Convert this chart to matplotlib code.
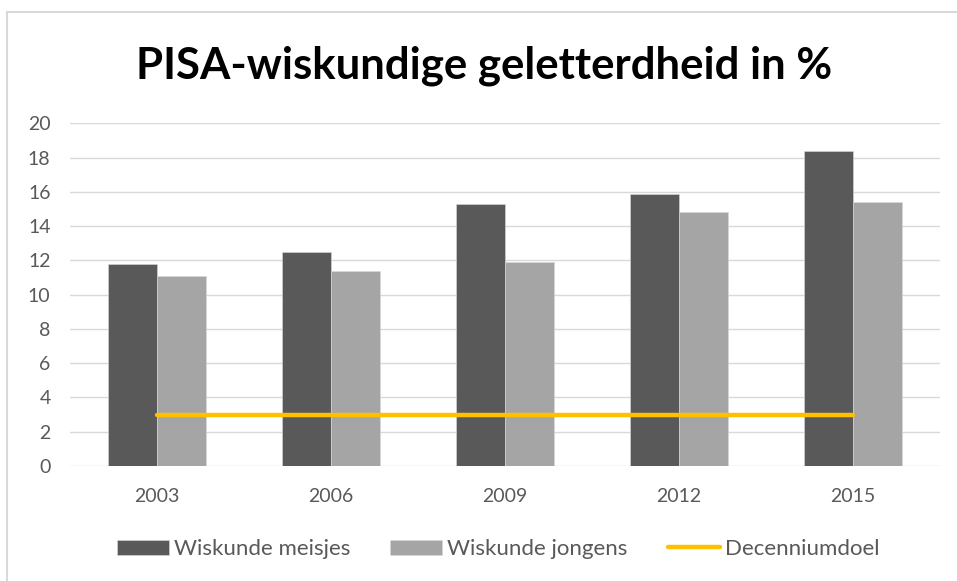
import matplotlib
matplotlib.use("Agg")
import matplotlib.pyplot as plt
import numpy as np
from matplotlib.lines import Line2D

years = ["2003", "2006", "2009", "2012", "2015"]
meisjes = [11.8, 12.5, 15.3, 15.9, 18.4]
jongens = [11.1, 11.4, 11.9, 14.8, 15.4]
decenniumdoel = [3, 3, 3, 3, 3]

title = "PISA-wiskundige geletterdheid in %"
labels = ["Wiskunde meisjes", "Wiskunde jongens", "Decenniumdoel"]

FONT = ["Lato", "DejaVu Sans"]
plt.rcParams['font.family'] = FONT

W, H = 957, 581
fig = plt.figure(figsize=(W / 100, H / 100), dpi=100)
fig.patch.set_facecolor("white")

# outer chart frame
fig.add_artist(Line2D([7 / W, 7 / W], [0, 1 - 12 / H], transform=fig.transFigure,
                      color="#D9D9D9", lw=1.5))
fig.add_artist(Line2D([7 / W, 1], [1 - 12 / H, 1 - 12 / H], transform=fig.transFigure,
                      color="#D9D9D9", lw=1.5))

ax = fig.add_axes([70 / W, 1 - 466 / H, (940 - 70) / W, (466 - 123.3) / H])
x = np.arange(len(years))
bw = 0.282
b1 = ax.bar(x - bw / 2, meisjes, bw, color="#595959", edgecolor="#D9D9D9", linewidth=0.4,
            label=labels[0], zorder=3)
b2 = ax.bar(x + bw / 2, jongens, bw, color="#A5A5A5", edgecolor="#D9D9D9", linewidth=0.4,
            label=labels[1], zorder=3)
l1, = ax.plot(x, decenniumdoel, color="#FFC000", lw=3.2, solid_capstyle="round",
              label=labels[2], zorder=4)

ax.set_xlim(-0.5, len(years) - 0.5)
ax.set_ylim(0, 20)
ax.set_yticks(np.arange(0, 21, 2))
ax.set_xticks(x)
ax.set_xticklabels(years)
ax.grid(axis="y", color="#D9D9D9", lw=1.0, zorder=0)
ax.set_axisbelow(True)
for s in ax.spines.values():
    s.set_visible(False)
ax.tick_params(axis="both", length=0, labelsize=14, labelcolor="#595959")
ax.tick_params(axis="x", pad=15.5)
ax.tick_params(axis="y", pad=14)

fig.text(484 / W, 1 - 66 / H, title, ha="center", va="center", fontsize=31.5,
         fontweight="bold", color="black")

leg = fig.legend(handles=[b1, b2, l1], labels=labels, loc="center", ncol=3,
                 bbox_to_anchor=(498 / W, 1 - 549 / H), frameon=False,
                 fontsize=16, labelcolor="#595959", handlelength=2.35,
                 handleheight=0.68, handletextpad=0.22, columnspacing=1.8)

fig.savefig("out.png", dpi=100, facecolor="white")
